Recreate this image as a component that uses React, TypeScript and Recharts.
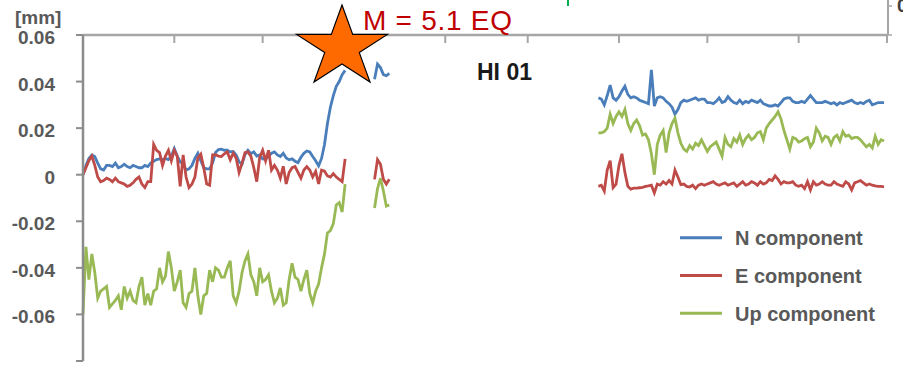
import React from 'react';
import { LineChart, Line, XAxis, YAxis, Legend } from 'recharts';

// Month boundaries (days since start of record)
const MONTH_TICKS = [0, 31, 61, 92, 123, 151, 182, 212, 243, 273];
const Y_TICKS = [-0.08, -0.06, -0.04, -0.02, 0, 0.02, 0.04, 0.06];
const LAST_DAY = 273;
// first day of each continuous data segment
const SEG_STARTS = [0, 99, 175];

const northA = [
  0.000, 0.004, 0.007, 0.0085, 0.0078, 0.005, 0.0025, 0.002, 0.004, 0.004,
  0.0035, 0.005, 0.003, 0.0035, 0.0045, 0.0035, 0.003, 0.004, 0.0035, 0.003,
  0.003, 0.004, 0.0035, 0.005, 0.0058, 0.0065, 0.0068, 0.0065, 0.007, 0.0065,
  0.008, 0.0112, 0.008, 0.0055, 0.0045, 0.002, 0.0025, 0.004, 0.007, 0.0092,
  0.006, 0.003, 0.0025, 0.0025, 0.005, 0.0095, 0.0108, 0.011, 0.0105, 0.0105,
  0.0098, 0.01, 0.0085, 0.0055, 0.0045, 0.0086, 0.0105, 0.009, 0.0098, 0.008,
  0.0085, 0.0068, 0.0066, 0.0082, 0.0092, 0.0098, 0.0085, 0.0078, 0.0092, 0.0072,
  0.0064, 0.0068, 0.0058, 0.0052, 0.0075, 0.0092, 0.0102, 0.0098, 0.0078, 0.006,
  0.0038, 0.007, 0.013, 0.022, 0.029, 0.034, 0.038, 0.040, 0.043, 0.0448,
];
const northB = [0.041, 0.0475, 0.046, 0.043, 0.0425, 0.0435];
const northC = [
  0.033, 0.0325, 0.030, 0.034, 0.0385, 0.033, 0.032, 0.0335, 0.036, 0.038,
  0.0345, 0.033, 0.0335, 0.033, 0.032, 0.0315, 0.031, 0.0305, 0.045, 0.0295,
  0.033, 0.0335, 0.033, 0.0315, 0.0305, 0.029, 0.026, 0.028, 0.031, 0.032,
  0.0315, 0.032, 0.0325, 0.033, 0.032, 0.0325, 0.0325, 0.031, 0.031, 0.0305,
  0.0315, 0.033, 0.031, 0.0315, 0.0335, 0.032, 0.031, 0.0305, 0.032, 0.0305,
  0.0315, 0.031, 0.032, 0.0315, 0.031, 0.032, 0.0305, 0.030, 0.0295, 0.0295,
  0.030, 0.0295, 0.031, 0.0325, 0.033, 0.033, 0.0315, 0.031, 0.031, 0.0315,
  0.031, 0.0325, 0.034, 0.0325, 0.031, 0.031, 0.031, 0.0315, 0.031, 0.0305,
  0.031, 0.030, 0.031, 0.0305, 0.031, 0.0315, 0.032, 0.031, 0.0305, 0.031,
  0.0305, 0.0315, 0.032, 0.030, 0.0305, 0.031, 0.031, 0.031,
];

const eastA = [
  0.000, 0.003, 0.006, 0.008, 0.004, -0.001, -0.003, -0.0025, -0.0015, -0.002,
  -0.003, -0.0015, -0.003, -0.0035, -0.004, -0.005, -0.0045, -0.0035, -0.002, -0.001,
  -0.004, -0.0055, -0.003, -0.003, 0.013, 0.0105, 0.0095, 0.004, 0.008, 0.0105,
  0.006, 0.0105, 0.008, -0.005, 0.0085, -0.001, -0.0055, -0.004, -0.001, 0.0072,
  0.0088, 0.003, -0.004, -0.0045, 0.0085, 0.0086, 0.008, 0.0078, 0.009, 0.0098,
  0.0064, 0.0092, 0.0072, 0.001, 0.005, 0.0095, 0.0098, 0.008, 0.003, -0.003,
  0.0075, 0.0105, 0.006, 0.0105, 0.002, 0.004, 0.002, -0.0015, 0.0036, -0.004,
  0.001, 0.003, 0.0035, 0.001, -0.0015, 0.002, 0.0035, 0.002, -0.001, 0.0015,
  -0.004, 0.002, 0.0015, -0.0005, -0.001, 0.0005, -0.001, -0.002, -0.003, 0.0068,
];
const eastB = [-0.002, 0.0065, 0.0045, -0.002, -0.004, -0.002];
const eastC = [
  -0.005, -0.0045, -0.007, 0.002, 0.006, -0.0055, -0.004, 0.004, 0.009, 0.001,
  -0.005, -0.0062, -0.0058, -0.0058, -0.0056, -0.0054, -0.005, -0.0048, -0.0045, -0.0078,
  -0.004, -0.0045, -0.003, -0.004, -0.0025, -0.004, 0.002, -0.001, -0.0043, -0.004,
  -0.005, -0.0053, -0.0045, -0.006, -0.0045, -0.004, -0.0045, -0.004, -0.0035, -0.003,
  -0.004, -0.0045, -0.004, -0.0035, -0.0045, -0.004, -0.0035, -0.005, -0.004, -0.003,
  -0.0045, -0.004, -0.003, -0.0035, -0.0045, -0.003, -0.004, -0.0035, -0.002, -0.0025,
  -0.0005, -0.002, -0.004, -0.003, -0.0035, -0.0035, -0.003, -0.0045, -0.005, -0.0045,
  -0.006, -0.003, -0.0065, -0.003, -0.0045, -0.004, -0.003, -0.004, -0.0045, -0.0045,
  -0.003, -0.004, -0.0045, -0.005, -0.003, -0.004, -0.0065, -0.0035, -0.003, -0.0025,
  -0.0035, -0.0045, -0.004, -0.0045, -0.0048, -0.005, -0.005, -0.0052,
];

const upA = [
  -0.060, -0.031, -0.045, -0.034, -0.042, -0.053, -0.050, -0.049, -0.048, -0.057,
  -0.0555, -0.054, -0.052, -0.058, -0.048, -0.053, -0.050, -0.054, -0.055, -0.048,
  -0.044, -0.056, -0.051, -0.056, -0.050, -0.049, -0.040, -0.046, -0.0436, -0.033,
  -0.040, -0.050, -0.046, -0.041, -0.055, -0.057, -0.051, -0.050, -0.040, -0.052,
  -0.060, -0.052, -0.051, -0.041, -0.046, -0.040, -0.041, -0.044, -0.044, -0.040,
  -0.037, -0.052, -0.055, -0.050, -0.042, -0.037, -0.034, -0.043, -0.046, -0.052,
  -0.040, -0.046, -0.045, -0.043, -0.050, -0.055, -0.053, -0.0486, -0.056, -0.055,
  -0.045, -0.038, -0.044, -0.045, -0.050, -0.045, -0.041, -0.051, -0.055, -0.050,
  -0.047, -0.040, -0.034, -0.025, -0.024, -0.021, -0.013, -0.012, -0.016, -0.004,
];
const upB = [-0.0143, -0.006, -0.0015, -0.007, -0.0135, -0.013];
const upC = [
  0.018, 0.018, 0.0185, 0.020, 0.026, 0.022, 0.025, 0.027, 0.025, 0.028,
  0.022, 0.019, 0.022, 0.0235, 0.021, 0.017, 0.0175, 0.015, 0.009, 0.000,
  0.013, 0.017, 0.019, 0.0095, 0.018, 0.022, 0.0243, 0.018, 0.0135, 0.011,
  0.010, 0.0125, 0.011, 0.0135, 0.0125, 0.015, 0.0125, 0.010, 0.012, 0.013,
  0.014, 0.011, 0.008, 0.016, 0.013, 0.012, 0.0155, 0.014, 0.017, 0.013,
  0.0155, 0.017, 0.015, 0.016, 0.018, 0.0185, 0.015, 0.020, 0.022, 0.0235,
  0.025, 0.027, 0.024, 0.019, 0.015, 0.011, 0.016, 0.0155, 0.014, 0.0145,
  0.0155, 0.016, 0.012, 0.014, 0.020, 0.018, 0.0145, 0.0165, 0.016, 0.013,
  0.016, 0.017, 0.0145, 0.0185, 0.0165, 0.017, 0.0155, 0.016, 0.016, 0.015,
  0.0135, 0.012, 0.013, 0.0115, 0.0165, 0.013, 0.015, 0.0145,
];

const SERIES = [
  { key: 'n', name: 'N component', color: '#4A7EBB', segs: [northA, northB, northC] },
  { key: 'e', name: 'E component', color: '#BE4B48', segs: [eastA, eastB, eastC] },
  { key: 'u', name: 'Up component', color: '#98B954', segs: [upA, upB, upC] },
];
const SERIES_ORDER = SERIES.map((s) => s.name);

function valueAt(segs: number[][], day: number): number | null {
  for (let i = 0; i < segs.length; i++) {
    const idx = day - SEG_STARTS[i];
    if (idx >= 0 && idx < segs[i].length) return segs[i][idx];
  }
  return null;
}

const data = Array.from({ length: LAST_DAY + 1 }, (_, day) => {
  const row: Record<string, number | null> = { day };
  SERIES.forEach((s) => {
    row[s.key] = valueAt(s.segs, day);
  });
  return row;
});

const FONT = '"Liberation Sans", Arial, Helvetica, sans-serif';

function fmtY(v: number): string {
  if (Math.abs(v + 0.08) < 1e-9) return '';
  if (Math.abs(v) < 1e-9) return '0';
  return v.toFixed(2);
}

const YTick = (props: any) => {
  const { x, y, payload } = props;
  return (
    <text x={x} y={y + 9} textAnchor="end" fontFamily={FONT} fontSize={19} fontWeight="bold" fill="#595959">
      {fmtY(payload.value)}
    </text>
  );
};

const LegendBox = (props: any) => {
  const payload = [...(props.payload || [])].sort(
    (a: any, b: any) => SERIES_ORDER.indexOf(a.value) - SERIES_ORDER.indexOf(b.value)
  );
  return (
    <svg width={225} height={120} style={{ display: 'block', overflow: 'visible' }}>
      {payload.map((p: any, i: number) => {
        const cy = 19.7 + 37.8 * i;
        return (
          <g key={String(p.value)}>
            <line x1={0} x2={42} y1={cy} y2={cy} stroke={p.color} strokeWidth={3} />
            <text x={55} y={cy + 7.3} fontFamily={FONT} fontSize={20} fontWeight="bold" fill="#595959">
              {p.value}
            </text>
          </g>
        );
      })}
    </svg>
  );
};

function starPoints(cx: number, cy: number, R: number, sx: number): string {
  const pts: string[] = [];
  const r = R * 0.382;
  for (let i = 0; i < 10; i++) {
    const a = (Math.PI / 5) * i - Math.PI / 2;
    const rad = i % 2 === 0 ? R : r;
    pts.push(`${(cx + rad * Math.cos(a) * sx).toFixed(1)},${(cy + rad * Math.sin(a)).toFixed(1)}`);
  }
  return pts.join(' ');
}

export default function App() {
  return (
    <div style={{ position: 'absolute', left: 0, top: 0, width: 903, height: 369, background: '#fff' }}>
      <LineChart
        width={903}
        height={369}
        data={data}
        margin={{ top: 34, right: 16, bottom: 8, left: 0 }}
      >
        <XAxis
          dataKey="day"
          type="number"
          domain={[0, LAST_DAY]}
          ticks={MONTH_TICKS}
          interval={0}
          orientation="top"
          height={1}
          tickSize={-8}
          tickFormatter={() => ''}
          axisLine={{ stroke: '#A6A6A6', strokeWidth: 2.5 }}
          tickLine={{ stroke: '#A6A6A6', strokeWidth: 2 }}
        />
        <YAxis
          type="number"
          domain={[-0.08, 0.06]}
          ticks={Y_TICKS}
          interval={0}
          width={83}
          tickSize={7}
          tickMargin={21}
          tick={<YTick />}
          axisLine={{ stroke: '#8C8C8C', strokeWidth: 2.5 }}
          tickLine={{ stroke: '#8C8C8C', strokeWidth: 2 }}
        />
        {SERIES.map((s) => (
          <Line
            key={s.key}
            dataKey={s.key}
            name={s.name}
            stroke={s.color}
            strokeWidth={2.8}
            dot={false}
            type="linear"
            connectNulls={false}
            isAnimationActive={false}
          />
        ))}
        <Legend
          layout="vertical"
          align="center"
          verticalAlign="middle"
          content={<LegendBox />}
          wrapperStyle={{ left: 680, top: 218, width: 225, height: 120 }}
        />
      </LineChart>
      <svg
        width={903}
        height={369}
        style={{ position: 'absolute', left: 0, top: 0, pointerEvents: 'none' }}
      >
        {/* remnants of the panel above */}
        <line x1={888} x2={888} y1={0} y2={35} stroke="#A6A6A6" strokeWidth={2} />
        <line x1={888} x2={892} y1={6} y2={6} stroke="#A6A6A6" strokeWidth={1.5} />
        <line x1={888} x2={892} y1={35} y2={35} stroke="#A6A6A6" strokeWidth={1.5} />
        <line x1={568} x2={568} y1={0} y2={6} stroke="#00B050" strokeWidth={2} />
        <text x={897} y={12} fontFamily={FONT} fontSize={19} fontWeight="bold" fill="#404040">0</text>
        <text x={15} y={24} fontFamily={FONT} fontSize={19} fontWeight="bold" fill="#595959">[mm]</text>
        <polygon points={starPoints(342, 47.6, 42.6, 1.12)} fill="#FF6A00" stroke="#000" strokeWidth={1.2} />
        <text x={363} y={30} fontFamily={FONT} fontSize={28} fill="#C00000" textLength={149} lengthAdjust="spacing">
          M = 5.1 EQ
        </text>
        <text x={477} y={80} fontFamily={FONT} fontSize={23} fontWeight="bold" fill="#1A1A1A">HI 01</text>
      </svg>
    </div>
  );
}
